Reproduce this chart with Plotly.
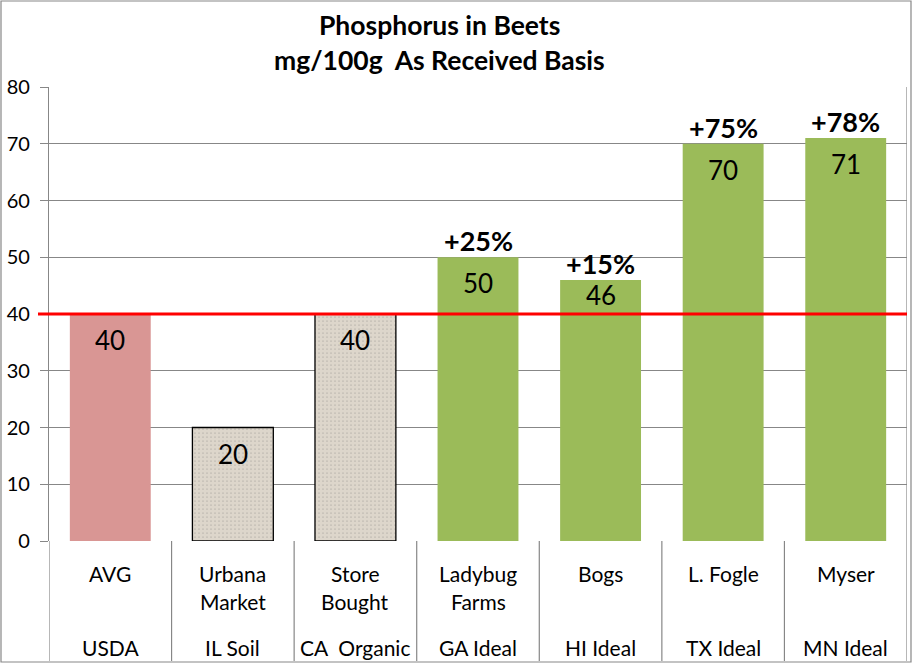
import plotly.graph_objects as go

categories = ["AVG", "Urbana Market", "Store Bought", "Ladybug Farms", "Bogs", "L. Fogle", "Myser"]
label_line1 = ["AVG", "Urbana", "Store", "Ladybug", "Bogs", "L. Fogle", "Myser"]
label_line2 = ["", "Market", "Bought", "Farms", "", "", ""]
regions = ["USDA", "IL Soil", "CA  Organic", "GA Ideal", "HI Ideal", "TX Ideal", "MN Ideal"]
values = [40, 20, 40, 50, 46, 70, 71]
pct_labels = ["", "", "", "+25%", "+15%", "+75%", "+78%"]
avg_value = 40

bar_colors = ["#D99694", "#DDD6CB", "#DDD6CB", "#9BBB59", "#9BBB59", "#9BBB59", "#9BBB59"]
pattern_shapes = ["", ".", ".", "", "", "", ""]
line_widths = [0, 1.3, 1.3, 0, 0, 0, 0]
value_label_shift = [-8, -8, -8, -8, 3, -8, -8]

FONT = "Lato"
W, H = 913, 664
L, R, T, B = 49, 6, 87, 123
PW = W - L - R
PH = H - T - B

fig = go.Figure()
fig.add_trace(go.Bar(
    x=categories, y=values,
    marker=dict(
        color=bar_colors,
        line=dict(color="black", width=line_widths),
        pattern=dict(shape=pattern_shapes, fgcolor="#CAC1B4", size=4, solidity=0.06,
                     fillmode="overlay"),
    ),
    width=0.66,
    hoverinfo="skip",
))

ann = []
for c, v, s in zip(categories, values, value_label_shift):
    ann.append(dict(x=c, y=v, xref="x", yref="y", text=str(v), showarrow=False,
                    yanchor="top", yshift=s, font=dict(family=FONT, size=26, color="black")))
for c, v, p in zip(categories, values, pct_labels):
    if p:
        ann.append(dict(x=c, y=v, xref="x", yref="y", text="<b>%s</b>" % p, showarrow=False,
                        yanchor="bottom", yshift=-2, font=dict(family=FONT, size=27, color="black")))
for c, a, b, r in zip(categories, label_line1, label_line2, regions):
    ann.append(dict(x=c, y=0, xref="x", yref="paper", text=a, showarrow=False,
                    yanchor="middle", yshift=-32, font=dict(family=FONT, size=21, color="black")))
    if b:
        ann.append(dict(x=c, y=0, xref="x", yref="paper", text=b, showarrow=False,
                        yanchor="middle", yshift=-60, font=dict(family=FONT, size=21, color="black")))
    ann.append(dict(x=c, y=0, xref="x", yref="paper", text=r, showarrow=False,
                    yanchor="middle", yshift=-106, font=dict(family=FONT, size=21, color="black")))

ann.append(dict(x=(439 - L) / PW, y=(H - B - 25) / PH, xref="paper", yref="paper",
                text="<b>Phosphorus in Beets</b>", showarrow=False, yanchor="middle",
                font=dict(family=FONT, size=26.5, color="black")))
ann.append(dict(x=(439 - L) / PW, y=(H - B - 60) / PH, xref="paper", yref="paper",
                text="<b>mg/100g  As Received Basis</b>", showarrow=False, yanchor="middle",
                font=dict(family=FONT, size=26.5, color="black")))

shapes = []
bottom_y = -(661 - (H - B)) / PH
grey = "#878787"
for i in range(len(categories) + 1):
    shapes.append(dict(type="line", xref="x", yref="paper", x0=i - 0.5, x1=i - 0.5,
                       y0=0 if i < len(categories) else 1, y1=bottom_y,
                       line=dict(color=grey, width=1.2)))
# red average line
shapes.append(dict(type="line", xref="paper", yref="y", x0=-11 / PW, x1=1, y0=avg_value, y1=avg_value,
                   line=dict(color="#FF0000", width=3)))
# outer chart border
shapes.append(dict(type="rect", xref="paper", yref="paper",
                   x0=(1 - L) / PW, x1=(911 - L) / PW,
                   y0=-(662 - (H - B)) / PH, y1=((H - B) - 1) / PH,
                   line=dict(color=grey, width=1.2), fillcolor="rgba(0,0,0,0)", layer="below"))

fig.update_layout(
    width=W, height=H,
    margin=dict(l=L, r=R, t=T, b=B, pad=0),
    paper_bgcolor="white", plot_bgcolor="white",
    showlegend=False,
    bargap=0.34,
    annotations=ann,
    shapes=shapes,
    xaxis=dict(type="category", showticklabels=False, ticks="", showgrid=False,
               zeroline=False, showline=False, range=[-0.5, len(categories) - 0.5], fixedrange=True),
    yaxis=dict(range=[0, 80], dtick=10, ticks="outside", ticklen=8, tickcolor=grey,
               showgrid=True, gridcolor=grey, gridwidth=1, showline=True, linecolor=grey,
               linewidth=1.2, zeroline=False, fixedrange=True, ticklabelstandoff=6,
               tickfont=dict(family=FONT, size=20, color="black")),
)

fig.write_html("out.html", config={"displayModeBar": False},
               post_script="document.body.style.margin='0';document.body.style.overflow='hidden';")
